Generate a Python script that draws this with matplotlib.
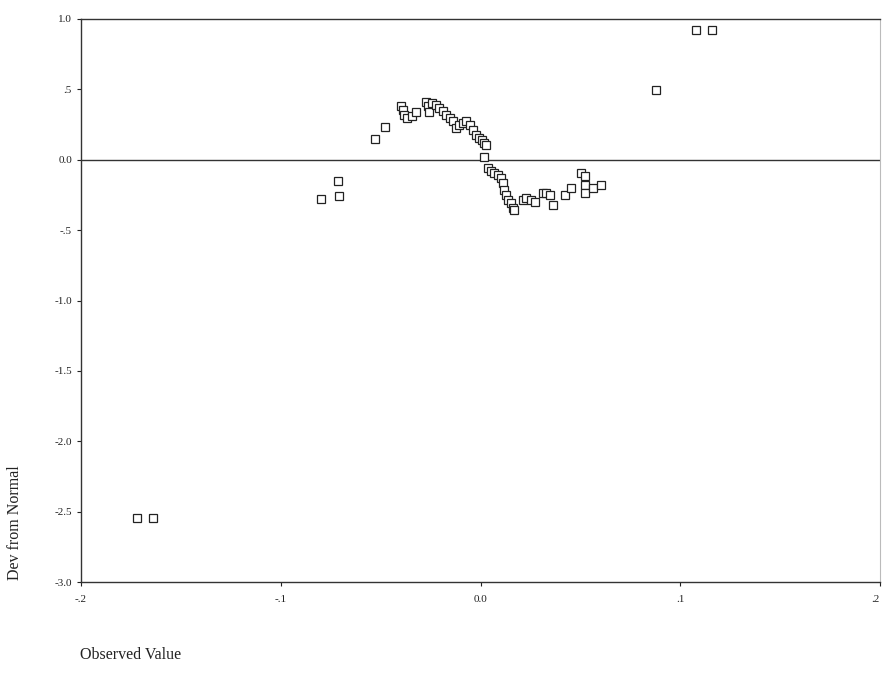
import numpy as np
import matplotlib.pyplot as plt

# detrended normal Q-Q points
observed = [-0.1718, -0.1639, -0.0799, -0.0715, -0.0707, -0.0526, -0.0476,
            -0.0397, -0.0386, -0.0381, -0.0366, -0.0342, -0.0322, -0.0271,
            -0.0261, -0.0256, -0.0241, -0.0222, -0.0206, -0.0190, -0.0172,
            -0.0155, -0.0140, -0.0122, -0.0110, -0.0090, -0.0072, -0.0055,
            -0.0040, -0.0025, -0.0009, 0.0010, 0.0020, 0.0029, 0.0020,
            0.0037, 0.0054, 0.0070, 0.0087, 0.0104, 0.0112, 0.0120, 0.0129,
            0.0137, 0.0154, 0.0162, 0.0170, 0.0212, 0.0229, 0.0254, 0.0271,
            0.0312, 0.0329, 0.0346, 0.0362, 0.0421, 0.0455, 0.0505, 0.0521,
            0.0521, 0.0521, 0.0563, 0.0605, 0.0881, 0.1078, 0.1161]
dev_normal = [-2.543, -2.543, -0.280, -0.154, -0.256, 0.147, 0.233,
              0.379, 0.351, 0.320, 0.299, 0.313, 0.337, 0.408,
              0.379, 0.337, 0.406, 0.391, 0.370, 0.344, 0.320,
              0.299, 0.273, 0.228, 0.250, 0.262, 0.273, 0.249,
              0.214, 0.178, 0.157, 0.142, 0.121, 0.107, 0.023,
              -0.059, -0.083, -0.095, -0.107, -0.130, -0.166, -0.214, -0.249,
              -0.285, -0.308, -0.344, -0.356, -0.285, -0.273, -0.285, -0.297,
              -0.237, -0.237, -0.249, -0.320, -0.249, -0.201, -0.095, -0.119,
              -0.178, -0.237, -0.201, -0.178, 0.493, 0.925, 0.920]

x_ticks = [-0.2, -0.1, 0.0, 0.1, 0.2]
x_labels = ['-.2', '-.1', '0.0', '.1', '.2']
y_ticks = [1.0, 0.5, 0.0, -0.5, -1.0, -1.5, -2.0, -2.5, -3.0]
y_labels = ['1.0', '.5', '0.0', '-.5', '-1.0', '-1.5', '-2.0', '-2.5', '-3.0']

plt.rcParams['font.family'] = ['Liberation Serif', 'DejaVu Serif']

fig = plt.figure(figsize=(8.82, 6.74), dpi=100)
W, H = 882, 674
ax = fig.add_axes([81 / W, 1 - 582 / H, (880 - 81) / W, (582 - 19) / H])

#zero reference line
ax.axhline(0, color='#333333', lw=1.0, zorder=1)

ax.plot(observed, dev_normal, linestyle='none', marker='s', markersize=5.5,
        markerfacecolor='white', markeredgecolor='#222222', markeredgewidth=0.9,
        zorder=3)

ax.set_xlim(-0.2, 0.2)
ax.set_ylim(-3.0, 1.0)
ax.set_xticks(x_ticks)
ax.set_xticklabels(x_labels)
ax.set_yticks(y_ticks)
ax.set_yticklabels(y_labels)
ax.tick_params(axis='both', labelsize=8, colors='#222222', length=3, width=0.8)
ax.tick_params(axis='x', pad=6)
# last x label would run off the edge, so pull it in
ax.get_xticklabels()[-1].set_horizontalalignment('right')

for side in ['left', 'bottom', 'top']:
    ax.spines[side].set_color('#333333')
    ax.spines[side].set_linewidth(1.0)
ax.spines['right'].set_color('#bbbbbb')
ax.spines['right'].set_linewidth(0.8)

fig.text(15 / W, 1 - 523 / H, 'Dev from Normal', rotation=90, fontsize=11.5,
         ha='center', va='center', color='#222222')
fig.text(80 / W, 1 - 655 / H, 'Observed Value', fontsize=11.5,
         ha='left', va='center', color='#222222')

fig.savefig('out.png', dpi=100)
